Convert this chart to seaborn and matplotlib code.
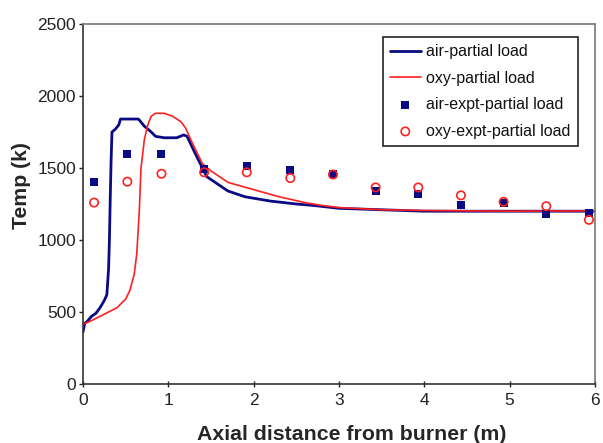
import numpy as np
import pandas as pd
import matplotlib
matplotlib.use("Agg")
import matplotlib.pyplot as plt
import seaborn as sns

# Model curves
air_x = [0.0, 0.02, 0.05, 0.1, 0.15, 0.2, 0.25, 0.28, 0.3, 0.31, 0.32, 0.33, 0.34, 0.38, 0.42, 0.44, 0.65,
         0.72, 0.8, 0.85, 0.95, 1.1, 1.18, 1.22, 1.3, 1.4, 1.45, 1.6, 1.7, 1.9, 2.0, 2.2, 2.5, 2.7, 3.0,
         3.5, 4.0, 5.0, 6.0]
air_t = [360, 420, 435, 470, 490, 530, 580, 620, 800, 1000, 1300, 1560, 1750, 1770, 1800, 1840, 1840,
         1790, 1750, 1720, 1710, 1710, 1730, 1720, 1620, 1500, 1440, 1380, 1340, 1300, 1290, 1270, 1250,
         1240, 1220, 1210, 1200, 1200, 1200]

oxy_x = [0.0, 0.1, 0.2, 0.3, 0.4, 0.5, 0.55, 0.6, 0.63, 0.66, 0.68, 0.72, 0.76, 0.8, 0.85, 0.95, 1.05,
         1.15, 1.2, 1.3, 1.4, 1.5, 1.6, 1.7, 2.0, 2.3, 2.6, 2.8, 3.0, 3.5, 4.0, 5.0, 6.0]
oxy_t = [415, 440, 470, 500, 530, 590, 650, 760, 900, 1200, 1500, 1700, 1800, 1860, 1880, 1880, 1860,
         1820, 1780, 1650, 1530, 1480, 1440, 1400, 1350, 1300, 1260, 1240, 1225, 1210, 1205, 1200, 1202]

# Experimental points
expt_x = [0.13, 0.52, 0.92, 1.42, 1.92, 2.43, 2.93, 3.43, 3.93, 4.43, 4.93, 5.43, 5.93]
air_expt = [1400, 1600, 1595, 1490, 1515, 1485, 1460, 1340, 1320, 1240, 1260, 1180, 1185]
oxy_expt = [1260, 1405, 1460, 1470, 1470, 1430, 1455, 1365, 1365, 1310, 1265, 1235, 1140]

sns.set_style("white")
plt.rcParams["font.family"] = ["Liberation Sans", "DejaVu Sans"]

fig = plt.figure(figsize=(6.03, 4.43), dpi=100)
ax = fig.add_axes([0.1376, 0.1332, 0.849, 0.8126])

navy = "#0a0a82"
sns.lineplot(x=air_x, y=air_t, sort=False, color=navy, linewidth=2.0, label="air-partial load", ax=ax)
sns.lineplot(x=oxy_x, y=oxy_t, sort=False, color="#ff2020", linewidth=1.2, label="oxy-partial load", ax=ax)
sns.scatterplot(x=expt_x, y=air_expt, marker="s", color=navy, s=38, linewidth=0,
                label="air-expt-partial load", ax=ax, zorder=3)
sns.scatterplot(x=expt_x, y=oxy_expt, marker="o", facecolor="none", edgecolor="#ff2020", s=36,
                linewidth=1.2, label="oxy-expt-partial load", ax=ax, zorder=4)

ax.set_xlim(0, 6)
ax.set_ylim(0, 2500)
ax.set_xticks(range(0, 7))
ax.set_yticks(range(0, 2501, 500))
ax.tick_params(axis="both", labelsize=12.5, colors="#222222", length=3, width=1)
ax.tick_params(axis="x", direction="inout", length=5, pad=4)
ax.tick_params(axis="y", direction="out", left=True, pad=2)
ax.tick_params(axis="x", bottom=True)

for s in ["left", "bottom"]:
    ax.spines[s].set_color("#333333")
    ax.spines[s].set_linewidth(1.2)
for s in ["top", "right"]:
    ax.spines[s].set_color("#777777")
    ax.spines[s].set_linewidth(1.2)

ax.set_xlabel("Axial distance from burner (m)", fontsize=15.3, fontweight="bold")
ax.set_ylabel("Temp (k)", fontsize=15.3, fontweight="bold")
ax.xaxis.set_label_coords(0.525, -0.115)
ax.yaxis.set_label_coords(-0.102, 0.55)

leg = ax.legend(loc="upper right", bbox_to_anchor=(0.967, 0.964), borderaxespad=0, fontsize=11.5,
                frameon=True, fancybox=False, edgecolor="#222222", framealpha=1, borderpad=0.45,
                labelspacing=0.72, handlelength=1.95, handletextpad=0.35)
leg.get_frame().set_linewidth(1.2)
for t in leg.get_texts():
    t.set_color("#111111")

fig.savefig("out.png", dpi=100)
